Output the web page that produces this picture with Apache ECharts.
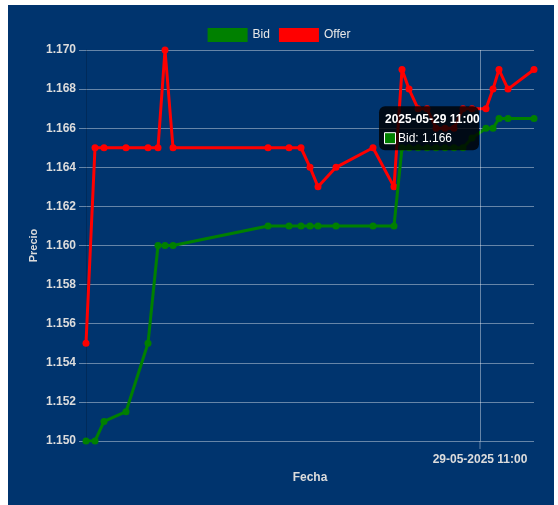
<!DOCTYPE html>
<html>
<head>
<meta charset="utf-8">
<script src="https://cdn.jsdelivr.net/npm/echarts@6/dist/echarts.min.js"></script>
<style>
html,body{margin:0;padding:0;background:#fff;}
#bg{position:absolute;left:8px;top:5px;width:546px;height:500px;background:#00346e;}
#chart{position:absolute;left:0;top:0;width:558px;height:505px;}
</style>
</head>
<body>
<div id="bg"></div>
<div id="chart"></div>
<script>
// ---- data ----
const times = [
  '2025-05-25 08:30','2025-05-25 10:45','2025-05-25 13:00','2025-05-25 18:30',
  '2025-05-26 00:00','2025-05-26 02:30','2025-05-26 04:15','2025-05-26 06:15',
  '2025-05-27 06:00','2025-05-27 11:15','2025-05-27 14:15','2025-05-27 16:30',
  '2025-05-27 18:30','2025-05-27 23:00','2025-05-28 08:15','2025-05-28 13:30',
  '2025-05-28 15:30','2025-05-28 17:15','2025-05-28 19:30','2025-05-28 21:45',
  '2025-05-29 00:00','2025-05-29 02:15','2025-05-29 04:30','2025-05-29 06:45',
  '2025-05-29 09:00','2025-05-29 12:30','2025-05-29 14:15','2025-05-29 15:45',
  '2025-05-29 18:00','2025-05-30 00:30'
];
const bid = [
  1.150,1.150,1.151,1.1515,1.155,1.160,1.160,1.160,
  1.161,1.161,1.161,1.161,1.161,1.161,1.161,1.161,
  1.165,1.165,1.165,1.165,1.165,1.165,1.165,1.165,
  1.1655,1.166,1.166,1.1665,1.1665,1.1665
];
const offer = [
  1.155,1.165,1.165,1.165,1.165,1.165,1.170,1.165,
  1.165,1.165,1.165,1.164,1.163,1.164,1.165,1.163,
  1.169,1.168,1.167,1.167,1.166,1.166,1.166,1.167,
  1.167,1.167,1.168,1.169,1.168,1.169
];
const yMin = 1.150, yMax = 1.170, yStep = 0.002;
const markerTime = '2025-05-29 11:00';
const markerLabel = '29-05-2025 11:00';
const hoverIndex = 25;
const tooltipTitle = '2025-05-29 11:00';
const tooltipBody = 'Bid: 1.166';
const yName = 'Precio';

const FONT = 'Liberation Sans, Arial, Helvetica, sans-serif';
const TXT = '#dcdcdc';

function parseLocal(s){
  const [d,t] = s.split(' ');
  const [Y,M,D] = d.split('-').map(Number);
  const [h,m] = t.split(':').map(Number);
  return new Date(Y, M-1, D, h, m).getTime();
}

const chart = echarts.init(document.getElementById('chart'), null, {renderer:'canvas'});
chart.setOption({
  backgroundColor: 'transparent',
  animation: false,
  textStyle: {fontFamily: FONT},
  legend: {
    top: 23, left: 'center',
    itemWidth: 40, itemHeight: 14, itemGap: 9,
    icon: 'rect',
    textStyle: {color: '#e8e8e8', fontSize: 12, fontFamily: FONT},
    data: ['Bid','Offer']
  },
  grid: {left: 86, right: 24, top: 50, bottom: 64},
  xAxis: {
    type: 'time',
    min: 'dataMin', max: 'dataMax',
    name: 'Fecha', nameLocation: 'middle', nameGap: 31,
    nameTextStyle: {color: TXT, fontWeight: 'bold', fontSize: 12, fontFamily: FONT},
    axisLine: {show: false},
    axisTick: {show: false},
    axisLabel: {show: false},
    splitLine: {show: false}
  },
  yAxis: {
    type: 'value',
    min: yMin, max: yMax, interval: yStep,
    axisLine: {show: true, lineStyle: {color: 'rgba(0,0,0,0.18)', width: 1}},
    axisTick: {show: true, length: 7, lineStyle: {color: 'rgba(255,255,255,0.4)'}},
    axisLabel: {color: TXT, fontWeight: 'bold', fontSize: 12, margin: 10,
      formatter: v => v.toFixed(3)},
    splitLine: {show: true, lineStyle: {color: 'rgba(255,255,255,0.4)', width: 1}}
  },
  series: [
    {
      name: 'Bid', type: 'line',
      data: times.map((t,i) => [t, bid[i]]),
      symbol: 'circle', symbolSize: 7, showSymbol: true,
      itemStyle: {color: 'green'},
      lineStyle: {color: 'green', width: 3},
      z: 3,
      markLine: {
        silent: true, symbol: 'none',
        lineStyle: {color: 'rgba(255,255,255,0.4)', width: 1, type: 'solid'},
        label: {show: true, position: 'start', distance: 13, formatter: markerLabel,
          color: TXT, fontWeight: 'bold', fontSize: 12, fontFamily: FONT},
        data: [{xAxis: parseLocal(markerTime)}]
      }
    },
    {
      name: 'Offer', type: 'line',
      data: times.map((t,i) => [t, offer[i]]),
      symbol: 'circle', symbolSize: 7, showSymbol: true,
      itemStyle: {color: 'red'},
      lineStyle: {color: 'red', width: 3},
      z: 2
    }
  ]
});

// static tooltip, y-axis title & marker tick, positioned from the chart's own scales
const p = chart.convertToPixel({seriesIndex: 0}, [times[hoverIndex], bid[hoverIndex]]);
const m = chart.convertToPixel({seriesIndex: 0}, [markerTime, yMin]);
const yMid = chart.convertToPixel({yAxisIndex: 0}, (yMin + yMax) / 2);
chart.setOption({
  graphic: [
    {type: 'text', z: 50, x: 34, y: yMid, rotation: Math.PI / 2,
      style: {text: yName, fill: TXT, font: 'bold 11px ' + FONT, align: 'center', verticalAlign: 'middle'}},
    {type: 'line', z: 50, shape: {x1: m[0], y1: m[1], x2: m[0], y2: m[1] + 8},
      style: {stroke: 'rgba(255,255,255,0.4)', lineWidth: 1}},
    {type: 'rect', z: 100, shape: {x: p[0] - 107, y: p[1] - 22, width: 100, height: 44, r: 6},
      style: {fill: 'rgba(0,0,0,0.8)'}},
    {type: 'text', z: 101, x: p[0] - 101, y: p[1] - 9,
      style: {text: tooltipTitle, fill: '#fff', font: 'bold 12px ' + FONT, verticalAlign: 'middle'}},
    {type: 'rect', z: 101, shape: {x: p[0] - 101.5, y: p[1] + 4.5, width: 11, height: 11},
      style: {fill: 'green', stroke: '#fff', lineWidth: 1}},
    {type: 'text', z: 101, x: p[0] - 88, y: p[1] + 10,
      style: {text: tooltipBody, fill: '#fff', font: '12px ' + FONT, verticalAlign: 'middle'}}
  ]
});
</script>
</body>
</html>
